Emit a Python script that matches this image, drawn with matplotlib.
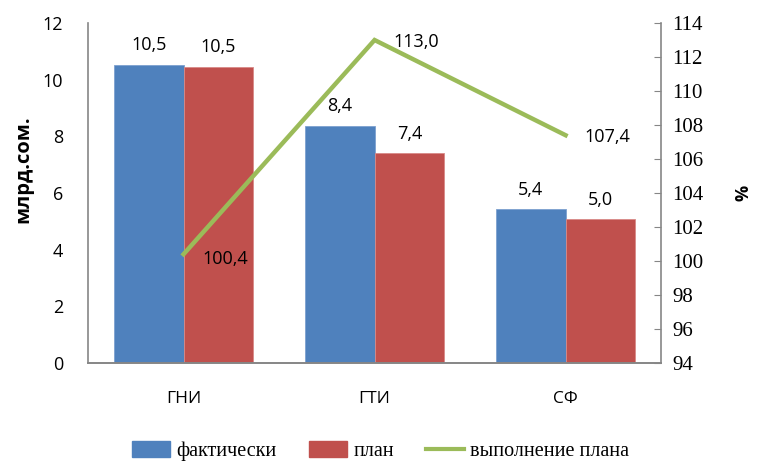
import numpy as np
import matplotlib.pyplot as plt
from matplotlib.patches import Patch
from matplotlib.lines import Line2D

categories = ['ГНИ', 'ГТИ', 'СФ']
fact = [10.53, 8.38, 5.43]
plan = [10.46, 7.41, 5.07]
fact_labels = ['10,5', '8,4', '5,4']
plan_labels = ['10,5', '7,4', '5,0']
execution = [100.4, 113.0, 107.4]
execution_labels = ['100,4', '113,0', '107,4']
left_ticks = [0, 2, 4, 6, 8, 10, 12]
right_ticks = [94, 96, 98, 100, 102, 104, 106, 108, 110, 112, 114]

blue = '#4F81BD'
red = '#C0504D'
green = '#9BBB59'
grey = '#868686'
sans = ['Open Sans', 'DejaVu Sans']
serif = ['Liberation Serif', 'DejaVu Serif']

fig = plt.figure(figsize=(7.57, 4.66), dpi=100)
ax = fig.add_axes([0.1163, 0.221, 0.757, 0.7296])
ax2 = ax.twinx()

x = np.arange(len(categories))
w = 0.365
ax.bar(x - w / 2, fact, w, color=blue, edgecolor='#7DA0CF', linewidth=0.6)
ax.bar(x + w / 2, plan, w, color=red, edgecolor='#D88A88', linewidth=0.6)
for i in range(len(categories)):
    ax.text(x[i] - w / 2, fact[i] + 0.36, fact_labels[i], ha='center', va='bottom',
            fontsize=13, family=sans)
    ax.text(x[i] + w / 2, plan[i] + 0.36, plan_labels[i], ha='center', va='bottom',
            fontsize=13, family=sans)

ax.set_xlim(-0.5, 2.5)
ax.set_ylim(0, 12)
ax.set_yticks(left_ticks)
ax.set_yticklabels([str(t) for t in left_ticks], family=sans, fontsize=13)
ax.set_xticks(x)
ax.set_xticklabels(categories, family=sans, fontsize=12.5)
ax.tick_params(axis='x', length=0, pad=20)
ax.tick_params(axis='y', length=0, pad=18)
ax.set_ylabel('млрд.сом.', family=sans, fontsize=14.5, fontweight='bold')
ax.yaxis.set_label_coords(-0.095, 0.57)

ax2.plot(x, execution, color=green, linewidth=3.2, solid_joinstyle='miter')
offsets = [(0.1, -0.3), (0.1, -0.1), (0.1, -0.1)]
for i in range(len(categories)):
    ax2.text(x[i] + offsets[i][0], execution[i] + offsets[i][1], execution_labels[i],
             ha='left', va='center', fontsize=13, family=sans)
ax2.set_ylim(94, 114)
ax2.set_yticks(right_ticks)
ax2.set_yticklabels([str(t) for t in right_ticks], family=serif, fontsize=15)
ax2.tick_params(axis='y', direction='in', length=5, color=grey, pad=8)
ax2.set_ylabel('%', family=sans, fontsize=13, fontweight='bold', labelpad=22)

for a in (ax, ax2):
    a.spines['top'].set_visible(False)
    for s in ('left', 'right', 'bottom'):
        a.spines[s].set_color(grey)
        a.spines[s].set_linewidth(1.2)
ax.spines['right'].set_visible(False)
ax2.spines['left'].set_visible(False)

handles = [Patch(color=blue), Patch(color=red), Line2D([0], [0], color=green, linewidth=3)]
fig.legend(handles, ['фактически', 'план', 'выполнение плана'], loc='lower center',
           bbox_to_anchor=(0.503, -0.028), ncol=3, frameon=False,
           prop={'family': serif, 'size': 14.5}, handlelength=1.9, handleheight=0.8,
           columnspacing=1.6, handletextpad=0.3)

fig.savefig('out.png', dpi=100)
